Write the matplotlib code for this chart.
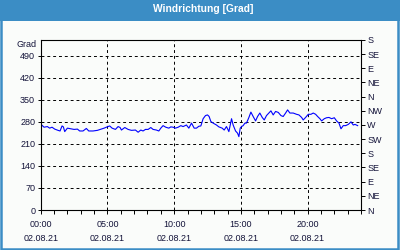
import matplotlib
matplotlib.use("Agg")
import matplotlib.pyplot as plt
from matplotlib.patches import Rectangle

title = "Windrichtung [Grad]"
unit_label = "Grad"
date_label = "02.08.21"

# hours since 00:00 and wind direction in degrees
hours = [0.0, 0.25, 0.5, 0.67, 0.85, 1.05, 1.3, 1.45, 1.6, 1.7, 1.8, 2.0, 2.25, 2.5, 2.75,
         2.92, 3.17, 3.42, 3.6, 3.92, 4.25, 4.55, 4.75, 4.92, 5.17, 5.35, 5.6, 5.8, 5.95,
         6.05, 6.3, 6.55, 6.8, 7.1, 7.3, 7.5, 7.67, 7.85, 8.05, 8.25, 8.42, 8.67, 8.85,
         9.0, 9.17, 9.37, 9.6, 9.75, 9.92, 10.1, 10.3, 10.5, 10.67, 10.92, 11.1, 11.3,
         11.5, 11.67, 11.85, 12.0, 12.17, 12.35, 12.5, 12.62, 12.75, 12.92, 13.17, 13.35,
         13.6, 13.75, 13.92, 14.1, 14.3, 14.42, 14.6, 14.75, 14.85, 14.95, 15.05, 15.17,
         15.3, 15.42, 15.6, 15.75, 15.92, 16.1, 16.25, 16.42, 16.6, 16.75, 16.92, 17.1,
         17.25, 17.42, 17.6, 17.8, 18.0, 18.17, 18.35, 18.5, 18.67, 18.92, 19.17, 19.35,
         19.55, 19.67, 19.85, 20.05, 20.25, 20.42, 20.6, 20.75, 20.92, 21.05, 21.25,
         21.42, 21.6, 21.8, 22.0, 22.17, 22.35, 22.5, 22.67, 22.85, 23.05, 23.25, 23.42,
         23.55, 23.75]
direction = [273, 263, 265, 260, 263, 257, 253, 251, 267, 264, 249, 260, 258, 256, 257,
             251, 251, 259, 251, 251, 253, 257, 260, 263, 267, 260, 256, 265, 262,
             254, 262, 256, 253, 254, 247, 254, 251, 256, 256, 262, 256, 254, 251,
             260, 268, 263, 260, 264, 263, 260, 263, 268, 265, 270, 260, 276,
             260, 260, 266, 267, 290, 300, 302, 297, 281, 276, 270, 264,
             260, 254, 265, 249, 290, 270, 251, 244, 233, 260, 265, 268,
             276, 276, 294, 311, 297, 283, 297, 308, 294, 286, 300, 308,
             315, 302, 313, 310, 300, 297, 308, 318, 308, 308, 304, 302,
             294, 286, 294, 304, 304, 308, 304, 297, 290, 283, 290,
             293, 294, 290, 293, 283, 276, 258, 268, 268, 272, 280, 270,
             272, 268]

left_ticks = [0, 70, 140, 210, 280, 350, 420, 490]
compass = ["N", "NE", "E", "SE", "S", "SW", "W", "NW", "N", "NE", "E", "SE", "S"]
compass_ticks = [45 * i for i in range(len(compass))]
hour_ticks = [0, 5, 10, 15, 20]
hour_labels = ["00:00", "05:00", "10:00", "15:00", "20:00"]

blue = "#3b8dc5"
txt = "#14143a"
plt.rcParams["font.family"] = ["Liberation Sans", "DejaVu Sans"]

fig = plt.figure(figsize=(4, 2.5), dpi=100, facecolor="#fafcfa")

# title bar and frame
fig.patches.append(Rectangle((0, 1 - 20.5 / 250), 1, 20.5 / 250, transform=fig.transFigure,
                             facecolor=blue, edgecolor="none", zorder=0))
fig.patches.append(Rectangle((0.002, 0.003), 0.994, 0.994, transform=fig.transFigure,
                             facecolor="none", edgecolor=blue, linewidth=1.8, zorder=1))
fig.text(203 / 400, 1 - 9 / 250, title, color="white", fontsize=7.4, fontweight="bold",
         ha="center", va="center")

ax = fig.add_axes([40.7 / 400, 1 - 210 / 250, 320.3 / 400, 170 / 250])
ax.set_facecolor("none")
ax.plot(hours, direction, color="#0000ff", linewidth=0.8)
ax.set_xlim(0, 24)
ax.set_ylim(0, 540)

ax.set_yticks(left_ticks)
ax.set_yticklabels([str(v) for v in left_ticks])
ax.set_xticks(hour_ticks)
ax.set_xticklabels([h + "\n" + date_label for h in hour_labels], linespacing=1.75)
ax.set_xticks(range(25), minor=True)
ax.tick_params(axis="x", which="both", direction="out", length=3, width=0.7,
               labelsize=6.5, labelcolor=txt, pad=4)
ax.tick_params(axis="y", direction="out", length=2, width=0.7, labelsize=6.5,
               labelcolor=txt, pad=2)
ax.grid(True, which="major", color="black", linestyle=(0, (3, 3)), linewidth=0.7)
for s in ax.spines.values():
    s.set_linewidth(0.8)
    s.set_color("black")

ax.text(-0.013, 1 - 5 / 170, unit_label, transform=ax.transAxes, ha="right", va="center",
        fontsize=6.5, color=txt)

ax2 = ax.twinx()
ax2.set_ylim(0, 540)
ax2.set_yticks(compass_ticks)
ax2.set_yticklabels(compass)
ax2.tick_params(axis="y", direction="out", length=3, width=0.7, labelsize=6.5,
                labelcolor=txt, pad=1.5)
for s in ax2.spines.values():
    s.set_visible(False)

fig.savefig("out.png", dpi=100, facecolor=fig.get_facecolor())
